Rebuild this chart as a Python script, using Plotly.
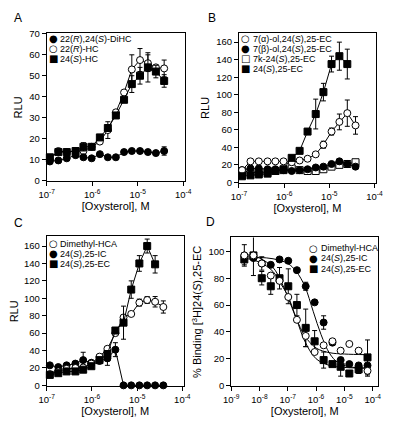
import plotly.graph_objects as go

# ---------------- data ----------------
conc_abc = [1.17e-7, 1.8e-7, 2.75e-7, 4.3e-7, 6.4e-7, 9.7e-7, 1.47e-6, 2.2e-6,
            3.3e-6, 5.0e-6, 7.4e-6, 1.12e-5, 1.67e-5, 2.5e-5, 3.8e-5]

# Panel A
a_dihc = [9, 9.5, 10.5, 12, 11, 10.5, 12.5, 11, 11, 13.5, 14, 14, 13.5, 13, 14]
a_dihc_err = [1, 0, 0, 0, 0, 0, 0, 0, 0, 0, 0, 0, 0, 0, 2]
a_hc22 = [10, 14, 13.5, 14, 14, 16, 18.5, 24, 32.5, 42, 53, 57.5, 56, 54, 53.5]
a_hc22_err = [0, 0, 0, 0, 1, 0, 0, 4, 0, 0, 7, 5.5, 4, 0, 4]
a_hc24 = [11, 13.5, 13.5, 14, 16, 16, 20.5, 25, 31, 38.5, 46, 50, 54, 52, 47.5]
a_hc24_err = [0, 0, 0, 0, 2, 0, 0, 0, 0, 0, 4, 4, 7, 3, 3]

# Panel B
b_alpha = [14, 24, 24, 24, 24, 24, 23, 25, 27, 32, 43, 58, 69, 79, 65]
b_alpha_err = [0, 0, 0, 0, 0, 0, 0, 0, 0, 0, 4, 4, 9, 15, 10]
b_beta = [14, 16, 16, 15, 15, 14, 13, 14, 15, 17, 18, 21, 24, 21, 18]
b_beta_err = [0, 0, 0, 0, 0, 0, 0, 0, 0, 0, 0, 0, 3, 0, 2]
b_keto = [13, 12, 11, 12, 13, 14, 16, 14, 13, 13, 15, 18, 20, 21, 23]
b_keto_err = [0, 0, 0, 0, 0, 0, 0, 0, 0, 0, 0, 0, 0, 0, 0]
b_ec = [7, 8, 9, 10, 13, 15, 28, 36, 58, 78, 103, 135, 144, 135]
b_ec_err = [0, 0, 0, 0, 0, 0, 0, 0, 0, 17, 10, 9, 16, 17]

# Panel C
c_hca = [13, 16, 19, 20, 20.5, 25, 33, 42, 60, 78, 82, 95, 98, 96, 90]
c_hca_err = [0, 0, 0, 0, 0, 0, 0, 0, 0, 0, 0, 4, 4, 6, 7]
c_ic = [23, 21, 23, 25, 29, 26, 28, 31, 41, 0, 0, 0, 0, 0, 0]
c_ic_err = [0, 0, 0, 0, 9, 0, 0, 8, 8, 0, 0, 0, 0, 0, 0]
c_ec = [12, 14, 16, 16, 18, 22, 29, 36, 63, 72, 110, 140, 160, 139]
c_ec_err = [0, 0, 0, 0, 0, 0, 0, 0, 0, 19, 10, 9, 8, 10]

# Panel D
conc_d = [2.9e-9, 6.1e-9, 1.2e-8, 2.5e-8, 5.1e-8, 1.04e-7, 2.1e-7, 4.3e-7,
          8.9e-7, 1.85e-6, 3.8e-6, 7.4e-6, 1.5e-5, 3.2e-5, 6.6e-5]
d_hca = [97, 97, 91, 82, 78, 66, 49, 37, 25, 30, 33, 26, 31, 26, 11]
d_hca_err = [8, 0, 5, 0, 0, 0, 0, 8, 0, 0, 0, 0, 0, 0, 4]
d_ic = [97, 95, 91, 90, 94, 93, 86, 74, 62, 47, 32, 19, 16, 15, 15]
d_ic_err = [0, 0, 0, 0, 0, 0, 0, 3, 0, 5, 0, 0, 0, 0, 0]
d_ec = [94, 97, 80, 74, 80, 74, 60, 43, 33, 19, 16, 14, 9, 12, 21]
d_ec_err = [4, 15, 5, 6, 8, 13, 8, 14, 8, 6, 0, 7, 0, 3, 13]

# fitted curves in D
fit_x = [3e-9, 1e-8, 3e-8, 6e-8, 1e-7, 2e-7, 4e-7, 1e-6, 3e-6, 1e-5, 6.6e-5]
fit_hca = [98, 95, 88, 77, 66, 50, 37, 28, 24.5, 23.5, 23]
fit_ec = [95, 92, 85, 75, 67, 50, 33, 20, 15, 13.5, 13]
fit_ic_x = [3e-9, 1e-8, 3e-8, 1e-7, 2e-7, 4e-7, 8e-7, 1.5e-6, 3e-6, 6e-6, 1.5e-5, 6.6e-5]
fit_ic = [96, 95.5, 94.5, 91, 85, 74, 55, 38, 24, 17, 14, 13]

xticks_abc = [1e-7, 1e-6, 1e-5, 1e-4]
xticks_abc_text = ["10<sup>-7</sup>", "10<sup>-6</sup>", "10<sup>-5</sup>", "10<sup>-4</sup>"]
xticks_d = [1e-9, 1e-8, 1e-7, 1e-6, 1e-5, 1e-4]
xticks_d_text = ["10<sup>-9</sup>", "10<sup>-8</sup>", "10<sup>-7</sup>",
                 "10<sup>-6</sup>", "10<sup>-5</sup>", "10<sup>-4</sup>"]

legend_a = ["22(<i>R</i>),24(<i>S</i>)-DiHC", "22(<i>R</i>)-HC", "24(<i>S</i>)-HC"]
legend_b = ["7(α)-ol,24(<i>S</i>),25-EC", "7(β)-ol,24(<i>S</i>),25-EC",
            "7k-24(<i>S</i>),25-EC", "24(<i>S</i>),25-EC"]
legend_cd = ["Dimethyl-HCA", "24(<i>S</i>),25-IC", "24(<i>S</i>),25-EC"]

# ---------------- styling ----------------
# the page body has an 8px default margin: the figure is sized so the page fits 400x429
OFF = 8
W, H = 384, 413
FONT = "Liberation Sans, Arial, Helvetica, sans-serif"
STYLE = {
    "fc": dict(symbol="circle", color="black", line=dict(color="black", width=1)),
    "oc": dict(symbol="circle", color="white", line=dict(color="black", width=1)),
    "fs": dict(symbol="square", color="black", line=dict(color="black", width=1)),
    "os": dict(symbol="square", color="white", line=dict(color="black", width=1)),
}
GLYPH = {"fc": "●", "oc": "○", "fs": "■", "os": "□"}


def px(rx):
    return (rx - OFF) / W


def py(ry):
    return 1 - (ry - OFF) / H


fig = go.Figure()


def add_series(x, y, err, kind, name, axn, mode="lines+markers"):
    m = dict(STYLE[kind])
    m["size"] = 7
    fig.add_trace(go.Scatter(
        x=x[:len(y)], y=y, name=name, mode=mode,
        marker=m, line=dict(color="black", width=1),
        error_y=dict(type="data", array=err, visible=True, color="black",
                     thickness=1, width=2.5),
        xaxis="x" + axn, yaxis="y" + axn, showlegend=False, cliponaxis=False))


def add_fit(x, y, axn):
    fig.add_trace(go.Scatter(x=x, y=y, mode="lines", line=dict(color="black", width=1, shape="spline"),
                             xaxis="x" + axn, yaxis="y" + axn, showlegend=False, hoverinfo="skip"))


# Panel A (axes 1)
add_series(conc_abc, a_hc22, a_hc22_err, "oc", legend_a[1], "")
add_series(conc_abc, a_hc24, a_hc24_err, "fs", legend_a[2], "")
add_series(conc_abc, a_dihc, a_dihc_err, "fc", legend_a[0], "")
# Panel B (axes 2)
add_series(conc_abc, b_keto, b_keto_err, "os", legend_b[2], "2")
add_series(conc_abc, b_beta, b_beta_err, "fc", legend_b[1], "2")
add_series(conc_abc, b_alpha, b_alpha_err, "oc", legend_b[0], "2")
add_series(conc_abc, b_ec, b_ec_err, "fs", legend_b[3], "2")
# Panel C (axes 3)
add_series(conc_abc, c_ic, c_ic_err, "fc", legend_cd[1], "3")
add_series(conc_abc, c_hca, c_hca_err, "oc", legend_cd[0], "3")
add_series(conc_abc, c_ec, c_ec_err, "fs", legend_cd[2], "3")
# Panel D (axes 4)
add_fit(fit_x, fit_hca, "4")
add_fit(fit_ic_x, fit_ic, "4")
add_fit(fit_x, fit_ec, "4")
add_series(conc_d, d_ec, d_ec_err, "fs", legend_cd[2], "4", mode="markers")
add_series(conc_d, d_ic, d_ic_err, "fc", legend_cd[1], "4", mode="markers")
add_series(conc_d, d_hca, d_hca_err, "oc", legend_cd[0], "4", mode="markers")


def dom_x(a, b):
    return [px(a), px(b)]


def dom_y(top, bottom):
    return [py(bottom), py(top)]


axis_common = dict(showline=True, linecolor="black", linewidth=1, mirror=True,
                   ticks="outside", ticklen=4, tickwidth=1, tickcolor="black",
                   showgrid=False, zeroline=False,
                   tickfont=dict(size=9.5, color="black", family=FONT))
title_font = dict(size=11, color="black", family=FONT)
xt = dict(text="[Oxysterol], M", font=title_font, standoff=0)

fig.update_layout(
    width=W, height=H, margin=dict(l=0, r=0, t=0, b=0),
    paper_bgcolor="white", plot_bgcolor="white",
    font=dict(family=FONT, color="black"),
    showlegend=False,
    xaxis=dict(axis_common, type="log", domain=dom_x(40, 183.5), range=[-7, -3.97],
               tickvals=xticks_abc, ticktext=xticks_abc_text, title=xt, anchor="y"),
    yaxis=dict(axis_common, domain=dom_y(29, 180.5), range=[-0.5, 70.2], dtick=10,
               title=dict(text="RLU", font=title_font, standoff=4), anchor="x"),
    xaxis2=dict(axis_common, type="log", domain=dom_x(240, 382.5), range=[-7, -3.97],
                tickvals=xticks_abc, ticktext=xticks_abc_text, title=xt, anchor="y2"),
    yaxis2=dict(axis_common, domain=dom_y(28, 182.5), range=[-1, 171], dtick=20,
                title=dict(text="RLU", font=title_font, standoff=4), anchor="x2"),
    xaxis3=dict(axis_common, type="log", domain=dom_x(40, 182.5), range=[-7, -3.97],
                tickvals=xticks_abc, ticktext=xticks_abc_text, title=xt, anchor="y3"),
    yaxis3=dict(axis_common, domain=dom_y(237, 390.5), range=[-1, 171], dtick=20,
                title=dict(text="RLU", font=title_font, standoff=4), anchor="x3"),
    xaxis4=dict(axis_common, type="log", domain=dom_x(232, 385), range=[-9, -3.8],
                tickvals=xticks_d, ticktext=xticks_d_text, title=xt, anchor="y4"),
    yaxis4=dict(axis_common, domain=dom_y(238, 390.5), range=[-0.5, 110.4], dtick=20,
                title=dict(text="% Binding [<sup>3</sup>H]24(<i>S</i>),25-EC",
                           font=title_font, standoff=4), anchor="x4"),
)

annotations = []
# panel letters
for letter, (lx, ly) in zip(["A", "B", "C", "D"], [(10.5, 13.5), (211.5, 13.5), (10.5, 223), (210.5, 222)]):
    annotations.append(dict(text=letter, x=px(lx), y=py(ly), xref="paper", yref="paper",
                            showarrow=False, xanchor="center", yanchor="middle",
                            font=dict(size=12, color="black", family=FONT)))


def legend_rows(labels, kinds, mx, tx, y0, dy):
    for i, (lab, kd) in enumerate(zip(labels, kinds)):
        yy = py(y0 + i * dy)
        annotations.append(dict(text=GLYPH[kd], x=px(mx), y=yy, xref="paper", yref="paper",
                                showarrow=False, xanchor="center", yanchor="middle",
                                font=dict(size=10, color="black", family="DejaVu Sans")))
        annotations.append(dict(text=lab, x=px(tx), y=yy, xref="paper", yref="paper",
                                showarrow=False, xanchor="left", yanchor="middle",
                                font=dict(size=9, color="black", family=FONT)))


legend_rows(legend_a, ["fc", "oc", "fs"], 47, 52, 34.3, 10.3)
legend_rows(legend_b, ["oc", "fc", "os", "fs"], 247, 253, 34.3, 10.3)
legend_rows(legend_cd, ["oc", "fc", "fs"], 47, 52, 244.3, 10.3)
legend_rows(legend_cd, ["oc", "fc", "fs"], 318, 323.5, 249, 10.5)

fig.update_layout(annotations=annotations)
fig.write_html("out.html")
